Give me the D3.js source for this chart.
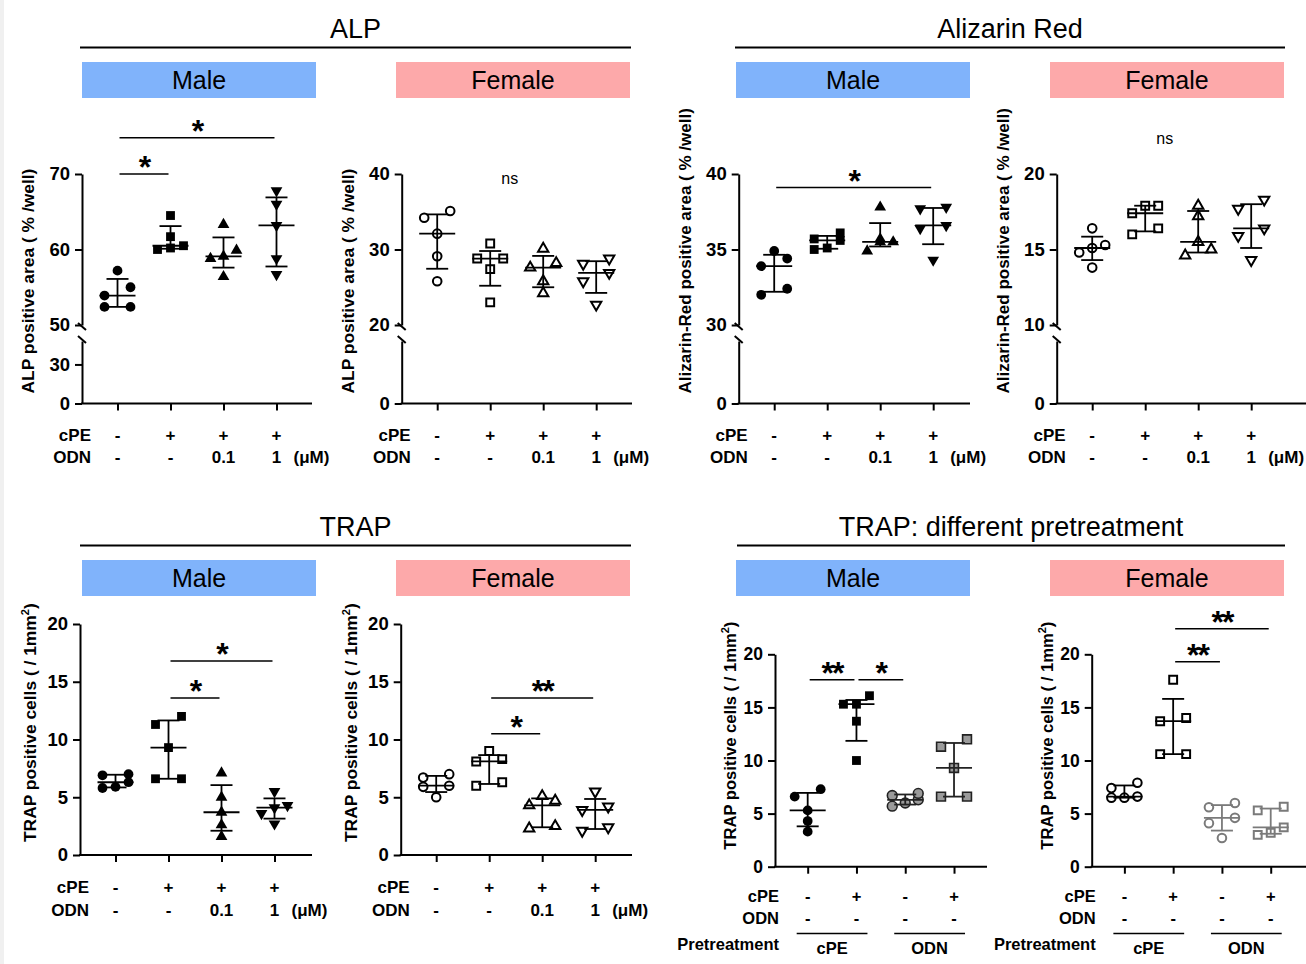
<!DOCTYPE html>
<html>
<head>
<meta charset="utf-8">
<script src="https://cdn.jsdelivr.net/npm/d3@7"></script>
<style>
  body { margin: 0; background: #fff; }
  svg { font-family: Arial, "Liberation Sans", sans-serif; }
</style>
</head>
<body>
<svg id="chart" width="1306" height="964"></svg>
<script>
// ---- data ----
var catsTop = ["Vehicle", "cPE", "cPE+ODN 0.1", "cPE+ODN 1"];
var cpeTop = ["-", "+", "+", "+"];
var odnTop = ["-", "-", "0.1", "1"];

var catsPre = ["cPE pre -", "cPE pre +", "ODN pre -", "ODN pre +"];
var cpePre = ["-", "+", "-", "+"];
var odnPre = ["-", "-", "-", "-"];
var pretreatGroups = [{label: "cPE", a: 0, b: 1}, {label: "ODN", a: 2, b: 3}];

var alpMale = [
  [57.2, 55.0, 53.9, 52.4, 52.4],
  [64.5, 61.7, 60.5, 60.2, 60.0],
  [63.3, 59.9, 59.1, 58.8, 56.4],
  [67.8, 66.0, 63.2, 58.8, 56.7]
];
var alpFemale = [
  [35.1, 34.2, 32.1, 29.1, 25.8],
  [30.8, 28.8, 28.8, 27.4, 23.0],
  [30.1, 28.2, 27.6, 25.8, 24.2],
  [28.8, 28.1, 26.9, 25.8, 22.7]
];
var alizMale = [
  [34.9, 34.4, 33.9, 32.4, 32.0],
  [36.1, 35.7, 35.6, 35.1, 35.0],
  [37.8, 35.7, 35.5, 35.5, 34.9],
  [37.8, 37.7, 36.6, 36.4, 34.3]
];
var alizFemale = [
  [16.4, 15.3, 15.1, 14.8, 13.8],
  [17.9, 17.9, 17.4, 16.4, 16.0],
  [17.9, 17.2, 15.5, 15.0, 14.6],
  [18.3, 17.7, 16.4, 15.9, 14.3]
];
var trapMale = [
  [7.0, 6.9, 6.3, 5.9, 5.8],
  [12.0, 11.3, 9.3, 6.6, 6.6],
  [7.1, 5.0, 3.7, 2.6, 1.6],
  [5.5, 4.3, 4.1, 3.6, 2.7]
];
var trapFemale = [
  [7.0, 6.7, 6.0, 5.9, 5.0],
  [9.0, 8.3, 8.1, 6.3, 6.0],
  [5.1, 4.7, 4.3, 2.5, 2.3],
  [5.5, 4.2, 3.9, 2.4, 2.1]
];
var preMale = [
  [7.3, 6.6, 5.3, 4.3, 3.3],
  [16.1, 15.3, 15.3, 13.7, 10.0],
  [6.9, 6.7, 6.3, 6.0, 5.7],
  [12.0, 11.3, 9.3, 6.6, 6.6]
];
var preFemale = [
  [7.9, 7.4, 6.6, 6.5, 6.5],
  [17.6, 14.0, 13.7, 10.6, 10.6],
  [6.0, 5.6, 4.6, 4.1, 2.7],
  [5.65, 5.3, 3.7, 3.2, 3.0]
];

// axis ticks
var alpMaleTicks = {upper: [50, 60, 70], lower: [0, 30]};
var alpFemaleTicks = {upper: [20, 30, 40], lower: [0]};
var alizMaleTicks = {upper: [30, 35, 40], lower: [0]};
var alizFemaleTicks = {upper: [10, 15, 20], lower: [0]};
var trapTicks = [0, 5, 10, 15, 20];

// significance marks (group index from/to, height in data units)
var alpMaleSig = [{a: 0, b: 1, v: 70, label: "*"}, {a: 0, b: 3, v: 74.8, label: "*"}];
var alizMaleSig = [{a: 0, b: 3, v: 39.1, label: "*"}];
var trapMaleSig = [{a: 1, b: 2, v: 13.6, label: "*"}, {a: 1, b: 3, v: 16.8, label: "*"}];
var trapFemaleSig = [{a: 1, b: 2, v: 10.5, label: "*"}, {a: 1, b: 3, v: 13.6, label: "**"}];
var preMaleSig = [{a: 0, b: 1, v: 17.6, label: "**"}, {a: 1, b: 2, v: 17.6, label: "*"}];
var preFemaleSig = [{a: 1, b: 2, v: 19.3, label: "**"}, {a: 1, b: 3, v: 22.4, label: "**"}];

// ---- styles ----
var blue = "#80b3fb", pink = "#fda9aa";
var black = "#000", grey = "#9b9b9b", greyLine = "#7a7a7a";

var filled = function(c) { return {fill: c, stroke: "none", sw: 0, bar: black}; };
var openM = function(c) { return {fill: "#fff", stroke: c, sw: 2, bar: c}; };
var maleStyles = [filled(black), filled(black), filled(black), filled(black)];
var femaleStyles = [openM(black), openM(black), openM(black), openM(black)];
var preMaleStyles = [filled(black), filled(black),
  {fill: grey, stroke: "#222", sw: 1.6, bar: "#222"}, {fill: grey, stroke: "#222", sw: 1.6, bar: "#222"}];
var preFemaleStyles = [openM(black), openM(black), openM(greyLine), openM(greyLine)];
var topShapes = ["circle", "square", "up", "down"];
var preShapes = ["circle", "square", "circle", "square"];

var svg = d3.select("#chart");
svg.append("rect").attr("x", 0).attr("y", 0).attr("width", 4).attr("height", 964).attr("fill", "#f0f0f0");

// ---- headers ----
var headers = [
  {title: "ALP", x1: 80, x2: 631, ly: 47.5, ty: 38},
  {title: "Alizarin Red", x1: 735, x2: 1285, ly: 47.5, ty: 38},
  {title: "TRAP", x1: 80, x2: 631, ly: 545.5, ty: 536},
  {title: "TRAP: different pretreatment", x1: 737, x2: 1285, ly: 545.5, ty: 536}
];
headers.forEach(function(h) {
  svg.append("text").attr("x", (h.x1 + h.x2) / 2).attr("y", h.ty)
    .attr("text-anchor", "middle").attr("font-size", 27).text(h.title);
  svg.append("line").attr("x1", h.x1).attr("x2", h.x2).attr("y1", h.ly).attr("y2", h.ly)
    .attr("stroke", "#000").attr("stroke-width", 2);
});

var boxes = [
  {label: "Male", x: 82, y: 62, color: blue}, {label: "Female", x: 396, y: 62, color: pink},
  {label: "Male", x: 736, y: 62, color: blue}, {label: "Female", x: 1050, y: 62, color: pink},
  {label: "Male", x: 82, y: 560, color: blue}, {label: "Female", x: 396, y: 560, color: pink},
  {label: "Male", x: 736, y: 560, color: blue}, {label: "Female", x: 1050, y: 560, color: pink}
];
boxes.forEach(function(b) {
  svg.append("rect").attr("x", b.x).attr("y", b.y).attr("width", 234).attr("height", 36).attr("fill", b.color);
  svg.append("text").attr("x", b.x + 117).attr("y", b.y + 27).attr("text-anchor", "middle")
    .attr("font-size", 25).text(b.label);
});

// GraphPad style quartiles, (n+1)p
function quart(vals, p) {
  var s = vals.slice().sort(d3.ascending), n = s.length;
  var pos = p * (n + 1);
  if (pos <= 1) return s[0];
  if (pos >= n) return s[n - 1];
  var lo = Math.floor(pos);
  return s[lo - 1] + (pos - lo) * (s[lo] - s[lo - 1]);
}

// spread points that sit at nearly the same height
function dodge(vals, y) {
  var pts = vals.map(function(v) { return {v: v, py: y(v)}; }).sort(function(a, b) { return a.v - b.v; });
  var rows = [], cur = null;
  pts.forEach(function(pt) {
    if (cur && Math.abs(cur[0].py - pt.py) < 9.2) cur.push(pt);
    else { cur = [pt]; rows.push(cur); }
  });
  rows.forEach(function(r) {
    var n = r.length, step = n === 2 ? 26 : 13;
    r.forEach(function(pt, i) { pt.dx = (i - (n - 1) / 2) * step; });
  });
  return pts;
}

function symbolPath(shape, open) {
  if (shape === "circle") return d3.symbol(d3.symbolCircle, open ? 58 : 75)();
  if (shape === "square") return d3.symbol(d3.symbolSquare, open ? 62 : 78)();
  return d3.symbol(d3.symbolTriangle, open ? 46 : 60)();
}

function styleAxis(g, fs) {
  g.attr("font-family", null).attr("font-size", fs).attr("font-weight", "bold");
  g.selectAll("path, line").attr("stroke", "#000").attr("stroke-width", 2);
  g.selectAll("text").attr("fill", "#000");
}

function drawPanel(p) {
  var g = svg.append("g");
  var fs = p.fs || 17;
  var tfs = p.tickFs || 18.5;
  var x = d3.scalePoint().domain(p.cats).range([p.x0, p.x0 + p.w]).padding(0.67);
  var yUp = d3.scaleLinear().domain(p.upper).range([p.breakY, p.top]);
  var yLow = p.lower ? d3.scaleLinear().domain(p.lower).range([p.bot, p.lowTop]) : null;
  var y = function(v) { return (!yLow || v >= p.upper[0]) ? yUp(v) : yLow(v); };

  // y axis (possibly broken)
  g.append("g").attr("transform", "translate(" + p.x0 + ",0)")
    .call(d3.axisLeft(yUp).tickValues(p.upTicks).tickSize(7).tickSizeOuter(0).tickPadding(5))
    .call(styleAxis, tfs);
  if (yLow) {
    g.append("g").attr("transform", "translate(" + p.x0 + ",0)")
      .call(d3.axisLeft(yLow).tickValues(p.lowTicks).tickSize(7).tickSizeOuter(0).tickPadding(5))
      .call(styleAxis, tfs);
    [p.breakY + 1, p.lowTop - 2].forEach(function(by) {
      g.append("line").attr("x1", p.x0 - 4).attr("y1", by - 3).attr("x2", p.x0 + 4).attr("y2", by + 4)
        .attr("stroke", "#000").attr("stroke-width", 2);
    });
  }

  // x axis
  g.append("g").attr("transform", "translate(0," + p.bot + ")")
    .call(d3.axisBottom(x).tickSize(7).tickFormat(""))
    .call(styleAxis, fs)
    .call(function(a) { a.select(".domain").remove(); });
  g.append("line").attr("x1", p.x0 - 1).attr("x2", p.lineEnd).attr("y1", p.bot).attr("y2", p.bot)
    .attr("stroke", "#000").attr("stroke-width", 2);

  // y title
  var t = g.append("text").attr("transform", "translate(" + (p.x0 - p.titleDx) + "," + (p.bot - p.titleDy) + ") rotate(-90)")
    .attr("font-size", p.titleFs || 17.4).attr("font-weight", "bold");
  if (p.sup) {
    t.append("tspan").text(p.yTitle);
    t.append("tspan").attr("dy", -7).attr("font-size", 11).text(p.sup);
    t.append("tspan").attr("dy", 7).text(")");
  } else {
    t.text(p.yTitle);
  }

  // points + median / interquartile range
  p.data.forEach(function(vals, gi) {
    var cx = x(p.cats[gi]), st = p.styles[gi], shape = p.shapes[gi];
    var open = st.fill === "#fff";
    var pts = dodge(vals, y);
    g.selectAll(null).data(pts).enter().append("path")
      .attr("d", symbolPath(shape, open))
      .attr("transform", function(d) {
        return "translate(" + (cx + d.dx) + "," + d.py + ")" + (shape === "down" ? " rotate(180)" : "");
      })
      .attr("fill", st.fill).attr("stroke", st.stroke).attr("stroke-width", st.sw);

    var med = quart(vals, 0.5), q1 = quart(vals, 0.25), q3 = quart(vals, 0.75);
    var eb = g.append("g").attr("stroke", st.bar).attr("stroke-width", 1.8);
    eb.append("line").attr("x1", cx).attr("x2", cx).attr("y1", y(q1)).attr("y2", y(q3));
    eb.append("line").attr("x1", cx - 11).attr("x2", cx + 11).attr("y1", y(q1)).attr("y2", y(q1));
    eb.append("line").attr("x1", cx - 11).attr("x2", cx + 11).attr("y1", y(q3)).attr("y2", y(q3));
    eb.append("line").attr("x1", cx - 18).attr("x2", cx + 18).attr("y1", y(med)).attr("y2", y(med));
  });

  // significance
  (p.sig || []).forEach(function(s) {
    var x1 = x(p.cats[s.a]) + 2, x2 = x(p.cats[s.b]) - 2, yy = y(s.v);
    g.append("line").attr("x1", x1).attr("x2", x2).attr("y1", yy).attr("y2", yy)
      .attr("stroke", "#000").attr("stroke-width", 1.5);
    g.append("text").attr("x", (x1 + x2) / 2).attr("y", yy + 4).attr("text-anchor", "middle")
      .attr("font-size", 32).attr("font-weight", "bold").attr("letter-spacing", -2).text(s.label);
  });
  if (p.ns) {
    g.append("text").attr("x", p.x0 + 108).attr("y", y(p.ns) + 5).attr("text-anchor", "middle")
      .attr("font-size", 16).text("ns");
  }

  // treatment rows under the axis
  p.rows.forEach(function(r) {
    g.append("text").attr("x", p.x0 + p.labelDx).attr("y", r.y).attr("text-anchor", "end")
      .attr("font-size", fs).attr("font-weight", "bold").text(r.name);
    g.selectAll(null).data(r.vals).enter().append("text")
      .attr("x", function(d, i) { return x(p.cats[i]); }).attr("y", r.y)
      .attr("text-anchor", "middle").attr("font-size", fs).attr("font-weight", "bold")
      .text(function(d) { return d; });
  });
  if (p.unitY) {
    g.append("text").attr("x", x(p.cats[3]) + 17).attr("y", p.unitY)
      .attr("font-size", fs).attr("font-weight", "bold").text("(\u03bcM)");
  }
  if (p.groups) {
    p.groups.forEach(function(gr) {
      var a = x(p.cats[gr.a]) - 11, b = x(p.cats[gr.b]) + 11;
      g.append("line").attr("x1", a).attr("x2", b).attr("y1", p.groupLineY).attr("y2", p.groupLineY)
        .attr("stroke", "#000").attr("stroke-width", 1.5);
      g.append("text").attr("x", (a + b) / 2).attr("y", p.groupLineY + 20).attr("text-anchor", "middle")
        .attr("font-size", fs).attr("font-weight", "bold").text(gr.label);
    });
  }
}

// ---- panels ----
var topRows = [{name: "cPE", vals: cpeTop, y: 441}, {name: "ODN", vals: odnTop, y: 463}];
var trapRows = [{name: "cPE", vals: cpeTop, y: 893}, {name: "ODN", vals: odnTop, y: 916}];
var preRows = [{name: "cPE", vals: cpePre, y: 902}, {name: "ODN", vals: odnPre, y: 924},
  {name: "Pretreatment", vals: [], y: 950}];

var topBase = {w: 230, top: 174, breakY: 325, lowTop: 341, bot: 403.5, titleDx: 48, titleDy: 10,
  labelDx: 9, rows: topRows, unitY: 463, cats: catsTop, shapes: topShapes};
var trapBase = {w: 230, top: 624, breakY: 855, bot: 855, upper: [0, 20], upTicks: trapTicks,
  titleDx: 44, titleDy: 13, labelDx: 9, rows: trapRows, unitY: 916, cats: catsTop, shapes: topShapes,
  yTitle: "TRAP positive cells ( / 1mm", sup: "2"};
var preBase = {w: 211.7, top: 654.3, breakY: 866.7, bot: 866.7, upper: [0, 20], upTicks: trapTicks,
  titleDx: 39, titleDy: 17, titleFs: 16.6, fs: 16.5, tickFs: 17.5, labelDx: 4, rows: preRows, cats: catsPre,
  shapes: preShapes, yTitle: "TRAP positive cells ( / 1mm", sup: "2", groups: pretreatGroups, groupLineY: 933.5};

var panels = [
  Object.assign({}, topBase, {x0: 82, lineEnd: 312, upper: [50, 70], lower: [0, 48],
    upTicks: alpMaleTicks.upper, lowTicks: alpMaleTicks.lower, data: alpMale, styles: maleStyles,
    yTitle: "ALP positive area ( % /well)", sig: alpMaleSig}),
  Object.assign({}, topBase, {x0: 401.7, lineEnd: 632, upper: [20, 40], lower: [0, 20],
    upTicks: alpFemaleTicks.upper, lowTicks: alpFemaleTicks.lower, data: alpFemale, styles: femaleStyles,
    yTitle: "ALP positive area ( % /well)", ns: 39.3}),
  Object.assign({}, topBase, {x0: 738.7, lineEnd: 970, upper: [30, 40], lower: [0, 30],
    upTicks: alizMaleTicks.upper, lowTicks: alizMaleTicks.lower, data: alizMale, styles: maleStyles,
    yTitle: "Alizarin-Red positive area ( % /well)", sig: alizMaleSig, titleFs: 17}),
  Object.assign({}, topBase, {x0: 1056.7, lineEnd: 1306, upper: [10, 20], lower: [0, 10],
    upTicks: alizFemaleTicks.upper, lowTicks: alizFemaleTicks.lower, data: alizFemale, styles: femaleStyles,
    yTitle: "Alizarin-Red positive area ( % /well)", ns: 22.3, titleFs: 17}),
  Object.assign({}, trapBase, {x0: 80, lineEnd: 312, data: trapMale, styles: maleStyles, sig: trapMaleSig}),
  Object.assign({}, trapBase, {x0: 400.7, lineEnd: 632, data: trapFemale, styles: femaleStyles, sig: trapFemaleSig}),
  Object.assign({}, preBase, {x0: 775, lineEnd: 987, data: preMale, styles: preMaleStyles, sig: preMaleSig}),
  Object.assign({}, preBase, {x0: 1091.7, lineEnd: 1306, data: preFemale, styles: preFemaleStyles, sig: preFemaleSig})
];
panels.forEach(drawPanel);
</script>
</body>
</html>
